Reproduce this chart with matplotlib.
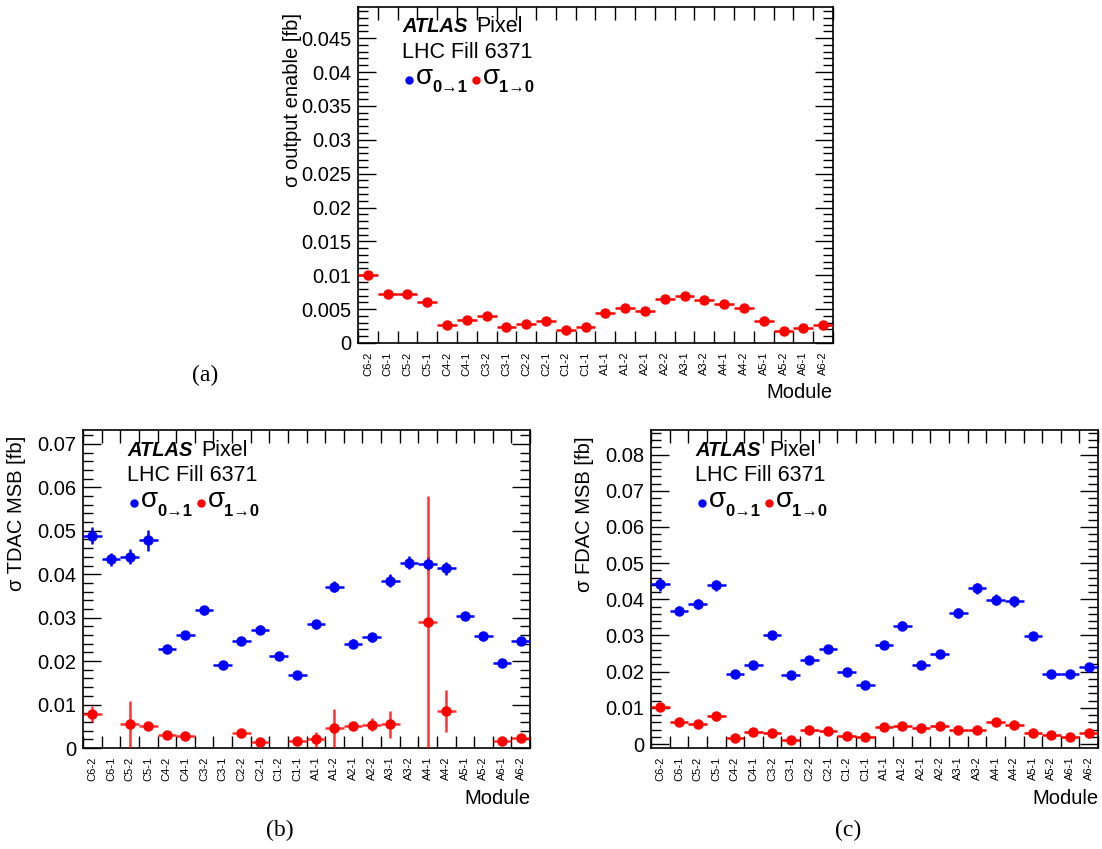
import numpy as np
import matplotlib
matplotlib.use("Agg")
import matplotlib.pyplot as plt
from matplotlib.transforms import offset_copy
from matplotlib.ticker import FixedLocator, MultipleLocator, FuncFormatter

plt.rcParams['font.family'] = ['Liberation Sans', 'DejaVu Sans']

modules = ["C6-2", "C6-1", "C5-2", "C5-1", "C4-2", "C4-1", "C3-2", "C3-1",
           "C2-2", "C2-1", "C1-2", "C1-1", "A1-1", "A1-2", "A2-1", "A2-2",
           "A3-1", "A3-2", "A4-1", "A4-2", "A5-1", "A5-2", "A6-1", "A6-2"]

nan = np.nan

# (a) output enable: only 1->0 visible
oe_10 = [0.0100, 0.00725, 0.00725, 0.0061, 0.00265, 0.0034, 0.0040, 0.0023,
         0.00285, 0.0033, 0.0019, 0.0023, 0.00446, 0.0052, 0.00466, 0.0065,
         0.0070, 0.0064, 0.0058, 0.0051, 0.0032, 0.0017, 0.0022, 0.0026]
oe_10_err = [0.0006, 0.0004, 0.0004, 0.0003, 0.0003, 0.0003, 0.0003, 0.0003,
             0.0003, 0.0003, 0.0003, 0.0003, 0.0003, 0.0003, 0.0003, 0.0004,
             0.0004, 0.0003, 0.0003, 0.0003, 0.0003, 0.0002, 0.0002, 0.0003]

# (b) TDAC MSB
tdac_01 = [0.0489, 0.0434, 0.0440, 0.0478, 0.0228, 0.0260, 0.0317, 0.0192,
           0.0246, 0.0272, 0.0212, 0.0167, 0.0285, 0.0371, 0.0240, 0.0255,
           0.0385, 0.0427, 0.0424, 0.0414, 0.0304, 0.0257, 0.0195, 0.0246]
tdac_01_err = [0.0020, 0.0015, 0.0017, 0.0024, 0.0010, 0.0010, 0.0011, 0.0008,
               0.0010, 0.0010, 0.0008, 0.0008, 0.0010, 0.0013, 0.0010, 0.0010,
               0.0015, 0.0015, 0.0015, 0.0015, 0.0010, 0.0010, 0.0008, 0.0010]
tdac_10 = [0.0078, nan, 0.0055, 0.0051, 0.0029, 0.0028, nan, nan,
           0.0035, 0.0014, nan, 0.0016, 0.0020, 0.0045, 0.0051, 0.0053,
           0.0055, nan, 0.0290, 0.0085, nan, nan, 0.0015, 0.0023]
tdac_10_err = [0.0019, 0.0, 0.0054, 0.0004, 0.0003, 0.0004, 0.0, 0.0,
               0.0008, 0.0010, 0.0, 0.0003, 0.0017, 0.0045, 0.0005, 0.0015,
               0.0031, 0.0, 0.0290, 0.0048, 0.0, 0.0, 0.0008, 0.0008]

# (c) FDAC MSB
fdac_01 = [0.0441, 0.0369, 0.0387, 0.0439, 0.0193, 0.0218, 0.0302, 0.0190,
           0.0232, 0.0264, 0.0199, 0.0163, 0.0274, 0.0327, 0.0218, 0.0249,
           0.0362, 0.0430, 0.0399, 0.0395, 0.0298, 0.0194, 0.0194, 0.0212]
fdac_01_err = [0.0019, 0.0013, 0.0014, 0.0015, 0.0008, 0.0009, 0.0010, 0.0009,
               0.0009, 0.0010, 0.0008, 0.0007, 0.0011, 0.0012, 0.0009, 0.0010,
               0.0013, 0.0016, 0.0015, 0.0015, 0.0011, 0.0008, 0.0008, 0.0009]
fdac_10 = [0.0102, 0.0061, 0.0054, 0.0077, 0.0017, 0.0033, 0.0031, 0.0011,
           0.0038, 0.0035, 0.0023, 0.0019, 0.0047, 0.0050, 0.0043, 0.0050,
           0.0038, 0.0038, 0.0061, 0.0052, 0.0031, 0.0026, 0.0020, 0.0031]
fdac_10_err = [0.0008, 0.0004, 0.0004, 0.0012, 0.0003, 0.0003, 0.0003, 0.0002,
               0.0003, 0.0003, 0.0003, 0.0003, 0.0004, 0.0004, 0.0004, 0.0004,
               0.0003, 0.0003, 0.0005, 0.0004, 0.0003, 0.0003, 0.0003, 0.0003]

W, H = 1102, 849
fig = plt.figure(figsize=(W / 100, H / 100), dpi=100)


def px_axes(l, t, r, b):
    return fig.add_axes([l / W, 1 - b / H, (r - l) / W, (b - t) / H])


BLUE = '#0000ff'
RED = '#ff0000'


def fmt(v, pos):
    return f"{round(v, 6):g}"


def setup(ax, ylo, yhi, major, minor, ylabel):
    x = np.arange(len(modules))
    ax.set_xlim(-0.5, len(modules) - 0.5)
    ax.set_ylim(ylo, yhi)
    ax.xaxis.set_major_locator(FixedLocator(x))
    ax.xaxis.set_minor_locator(FixedLocator(np.arange(len(modules) + 1) - 0.5))
    ax.set_xticklabels(modules, rotation=90, fontsize=8)
    ax.tick_params(axis='x', which='major', length=0, pad=6)
    ax.tick_params(axis='x', which='minor', length=9, width=1.0,
                   direction='in', top=True, bottom=True)
    ax.yaxis.set_major_locator(MultipleLocator(major))
    ax.yaxis.set_minor_locator(MultipleLocator(minor))
    ax.yaxis.set_major_formatter(FuncFormatter(fmt))
    ax.tick_params(axis='y', which='major', length=13, width=1.0,
                   direction='in', left=True, right=True, labelsize=14.5, pad=5)
    ax.tick_params(axis='y', which='minor', length=7, width=1.0,
                   direction='in', left=True, right=True)
    for s in ax.spines.values():
        s.set_linewidth(1.2)
    # y title at top-left
    tr = offset_copy(ax.transAxes, fig=fig, x=-66, y=-6, units='dots')
    ax.text(0, 1, ylabel, transform=tr, rotation=90, ha='center', va='top',
            fontsize=14.5)
    tr = offset_copy(ax.transAxes, fig=fig, x=0, y=-50, units='dots')
    ax.text(1, 0, "Module", transform=tr, ha='right', va='center', fontsize=14.5)
    # ATLAS label
    tr = offset_copy(ax.transAxes, fig=fig, x=44, y=-20, units='dots')
    ax.text(0, 1, "ATLAS", transform=tr, ha='left', va='center', fontsize=14.5,
            fontweight='bold', fontstyle='italic')
    tr = offset_copy(ax.transAxes, fig=fig, x=118, y=-20, units='dots')
    ax.text(0, 1, "Pixel", transform=tr, ha='left', va='center', fontsize=15.5)
    tr = offset_copy(ax.transAxes, fig=fig, x=44, y=-45, units='dots')
    ax.text(0, 1, "LHC Fill 6371", transform=tr, ha='left', va='center',
            fontsize=15.5)
    # legend
    for dx, col, sub in [(51, BLUE, "0\u21921"), (118, RED, "1\u21920")]:
        tr = offset_copy(ax.transAxes, fig=fig, x=dx, y=-73, units='dots')
        ax.plot([0], [1], 'o', color=col, ms=5, transform=tr, clip_on=False)
        tr = offset_copy(ax.transAxes, fig=fig, x=dx + 7, y=-70, units='dots')
        ax.text(0, 1, "\u03c3", transform=tr, ha='left', va='center',
                fontsize=20)
        tr = offset_copy(ax.transAxes, fig=fig, x=dx + 23, y=-81, units='dots')
        ax.text(0, 1, sub, transform=tr, ha='left', va='center', fontsize=12,
                fontweight='bold')


def series(ax, y, err, col, ecol=None):
    x = np.arange(len(modules))
    ax.errorbar(x, y, xerr=0.5, yerr=err, fmt='o', color=col, ms=6.5,
                ecolor=ecol if ecol is not None else col,
                elinewidth=1.8, capsize=0, zorder=3)


axa = px_axes(358, 7, 833, 343)
setup(axa, 0, 0.0496, 0.005, 0.001, "\u03c3 output enable [fb]")
series(axa, oe_10, oe_10_err, RED)

axb = px_axes(83, 430, 530, 748)
setup(axb, 0, 0.0732, 0.01, 0.002, "\u03c3 TDAC MSB [fb]")
series(axb, tdac_01, tdac_01_err, BLUE)
series(axb, tdac_10, tdac_10_err, RED, ecol=(1, 0, 0, 0.8))

axc = px_axes(651, 430, 1098, 748)
setup(axc, -0.0011, 0.0868, 0.01, 0.002, "\u03c3 FDAC MSB [fb]")
series(axc, fdac_01, fdac_01_err, BLUE)
series(axc, fdac_10, fdac_10_err, RED)

serif = ['Liberation Serif', 'DejaVu Serif']
fig.text(205 / W, 1 - 375 / H, "(a)", ha='center', va='center', fontsize=17,
         family=serif)
fig.text(280 / W, 1 - 830 / H, "(b)", ha='center', va='center', fontsize=17,
         family=serif)
fig.text(848 / W, 1 - 830 / H, "(c)", ha='center', va='center', fontsize=17,
         family=serif)

fig.savefig("out.png", dpi=100)
